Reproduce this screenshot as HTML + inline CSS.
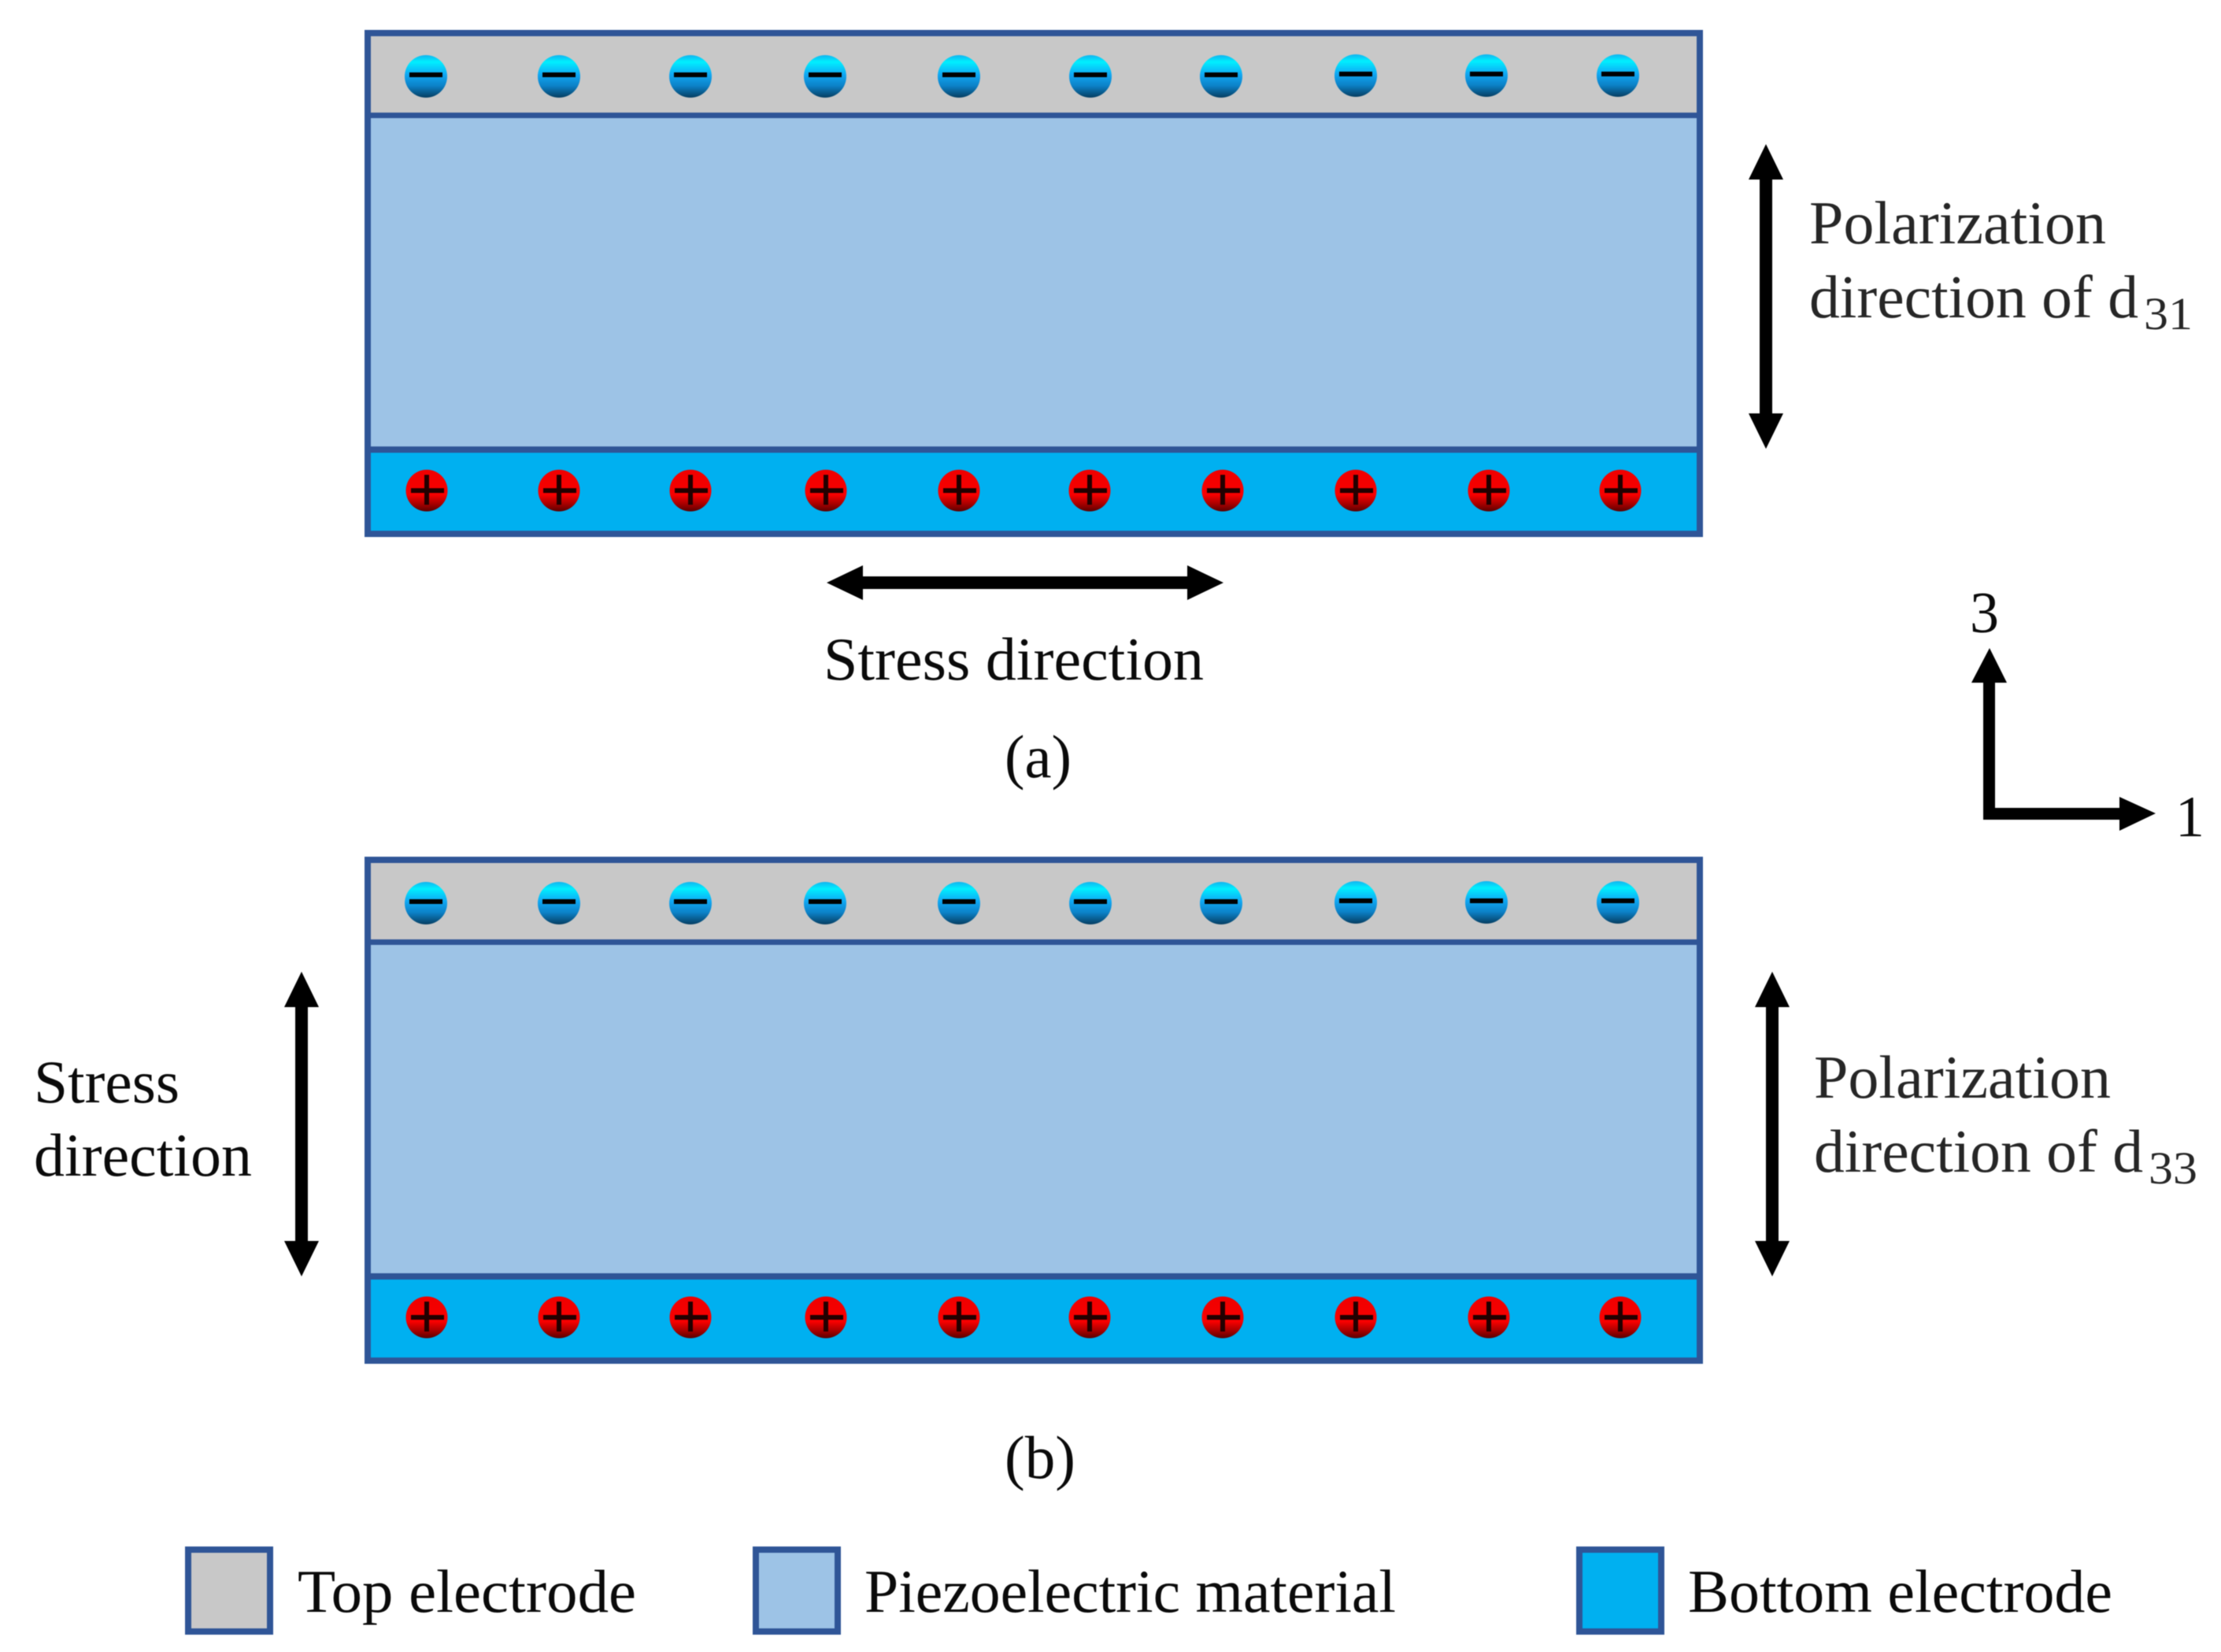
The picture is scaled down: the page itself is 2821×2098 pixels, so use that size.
<!DOCTYPE html>
<html><head><meta charset="utf-8"><style>
html,body{margin:0;padding:0;background:#fff;width:2821px;height:2098px;overflow:hidden}
svg{display:block;filter:blur(.6px)}
text{font-family:"Liberation Serif",serif;fill:#0a0a0a;font-size:77px}
.g{fill:#262626}
</style></head><body>
<svg width="2821" height="2098" viewBox="0 0 2821 2098" xmlns="http://www.w3.org/2000/svg">
<defs>
<linearGradient id="bl" x1="0" y1="0" x2="0" y2="1">
<stop offset="0" stop-color="#10b4f0"/><stop offset=".16" stop-color="#00f0ff"/><stop offset=".45" stop-color="#10a8f4"/><stop offset=".72" stop-color="#0c82c8"/><stop offset="1" stop-color="#063e62"/>
</linearGradient>
<linearGradient id="rd" x1="0" y1="0" x2="0" y2="1">
<stop offset="0" stop-color="#f00000"/><stop offset=".6" stop-color="#f80000"/><stop offset=".82" stop-color="#a80000"/><stop offset="1" stop-color="#5a0000"/>
</linearGradient>
<g id="n"><circle r="27" fill="url(#bl)"/><rect x="-21" y="-5" width="42" height="6" fill="#000"/></g>
<g id="p"><circle r="26.5" fill="url(#rd)"/><rect x="-20" y="-3" width="42" height="6" fill="#200"/><rect x="-3" y="-20" width="6" height="38" fill="#200"/></g>
<g id="panel">
<rect x="467" y="42" width="1692" height="104" fill="#c8c8c8"/>
<rect x="467" y="146" width="1692" height="425" fill="#9dc3e6"/>
<rect x="467" y="571" width="1692" height="107" fill="#00b0f0"/>
<rect x="467" y="42" width="1692" height="636" fill="none" stroke="#2f5597" stroke-width="8"/>
<rect x="467" y="143" width="1692" height="7" fill="#2f5597"/>
<rect x="467" y="567" width="1692" height="8" fill="#2f5597"/>
<use href="#n" x="541" y="97"/><use href="#n" x="710" y="97"/><use href="#n" x="877" y="97"/><use href="#n" x="1048" y="97"/><use href="#n" x="1218" y="97"/><use href="#n" x="1385" y="97"/><use href="#n" x="1551" y="97"/><use href="#n" x="1722" y="96"/><use href="#n" x="1888" y="96"/><use href="#n" x="2055" y="96"/>
<use href="#p" x="542" y="623"/><use href="#p" x="710" y="623"/><use href="#p" x="877" y="623"/><use href="#p" x="1049" y="623"/><use href="#p" x="1218" y="623"/><use href="#p" x="1384" y="623"/><use href="#p" x="1553" y="623"/><use href="#p" x="1722" y="623"/><use href="#p" x="1891" y="623"/><use href="#p" x="2058" y="623"/>
</g>
<path id="dv" d="M0 0L22 45H8V342H22L0 387L-22 342H-8V45H-22Z" fill="#000"/>
</defs>

<use href="#panel"/>
<use href="#panel" y="1050"/>

<use href="#dv" x="2243" y="183"/>
<use href="#dv" x="2251" y="1234"/>
<use href="#dv" x="383" y="1234"/>
<path d="M1050 740L1096 718V732H1508V718L1554 740L1508 762V748H1096V762Z" fill="#000"/>
<path d="M2527 823L2549 867H2534V1026H2692V1012L2738 1033L2692 1055V1041H2519V867H2504Z" fill="#000"/>

<text class="g" x="2298" y="309" textLength="377" lengthAdjust="spacingAndGlyphs">Polarization</text>
<text class="g" x="2298" y="403" textLength="418" lengthAdjust="spacingAndGlyphs">direction of d</text>
<text class="g" x="2723" y="418" style="font-size:58px" textLength="62" lengthAdjust="spacingAndGlyphs">31</text>
<text class="g" x="2304" y="1394" textLength="377" lengthAdjust="spacingAndGlyphs">Polarization</text>
<text class="g" x="2304" y="1488" textLength="418" lengthAdjust="spacingAndGlyphs">direction of d</text>
<text class="g" x="2729" y="1503" style="font-size:58px" textLength="62" lengthAdjust="spacingAndGlyphs">33</text>

<text x="1046" y="863" textLength="483" lengthAdjust="spacingAndGlyphs">Stress direction</text>
<text x="1276" y="987" textLength="85" lengthAdjust="spacingAndGlyphs">(a)</text>
<text x="1276" y="1877" textLength="90" lengthAdjust="spacingAndGlyphs">(b)</text>
<text x="43" y="1400" textLength="185" lengthAdjust="spacingAndGlyphs">Stress</text>
<text x="43" y="1493" textLength="277" lengthAdjust="spacingAndGlyphs">direction</text>
<text x="2502" y="803" style="font-size:74px">3</text>
<text x="2763" y="1062" style="font-size:74px">1</text>

<rect x="239" y="1968" width="104" height="104" fill="#c8c8c8" stroke="#2f5597" stroke-width="8"/>
<rect x="960" y="1968" width="104" height="104" fill="#9dc3e6" stroke="#2f5597" stroke-width="8"/>
<rect x="2006" y="1968" width="104" height="104" fill="#00b0f0" stroke="#2f5597" stroke-width="8"/>
<text x="378" y="2047" textLength="430" lengthAdjust="spacingAndGlyphs">Top electrode</text>
<text x="1098" y="2047" textLength="675" lengthAdjust="spacingAndGlyphs">Piezoelectric material</text>
<text x="2144" y="2047" textLength="539" lengthAdjust="spacingAndGlyphs">Bottom electrode</text>
</svg>
</body></html>
